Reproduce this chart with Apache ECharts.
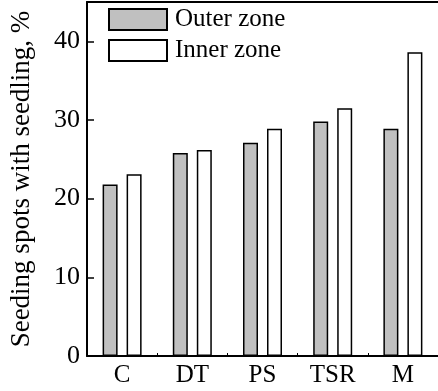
<!DOCTYPE html>
<html><head><meta charset="utf-8">
<script src="https://cdn.jsdelivr.net/npm/echarts@6/dist/echarts.min.js"></script>
<style>html,body{margin:0;padding:0;background:#fff}#c{width:438px;height:391px}</style>
</head><body><div id="c"></div>
<script>
const categories = ['C', 'DT', 'PS', 'TSR', 'M'];
const outerZone = [21.8, 25.8, 27.1, 29.8, 28.9];
const innerZone = [23.1, 26.2, 28.9, 31.5, 38.6];
const yTicks = [0, 10, 20, 30, 40];

const font = 'Liberation Serif, Times New Roman, serif';
const chart = echarts.init(document.getElementById('c'), null, {renderer: 'canvas'});
chart.setOption({
  animation: false,
  backgroundColor: '#fff',
  grid: {left: 86, top: 2, right: -2, bottom: 35, containLabel: false},
  legend: {
    left: 108, top: 7, padding: 0, orient: 'vertical', itemWidth: 58, itemHeight: 21, itemGap: 6,
    icon: 'rect',
    textStyle: {fontFamily: font, fontSize: 25, lineHeight: 21, color: '#000', padding: [0, 0, 0, 3]},
    data: ['Outer zone', 'Inner zone']
  },
  xAxis: [{
    type: 'category', data: categories,
    axisLine: {lineStyle: {color: '#000', width: 2}},
    axisTick: {show: true, inside: true, length: 3, lineStyle: {color: '#000', width: 1}},
    axisLabel: {fontFamily: font, fontSize: 25, color: '#000', margin: 7}
  }, {
    type: 'category', data: categories, position: 'top',
    axisLine: {show: true, lineStyle: {color: '#000', width: 2}},
    axisTick: {show: false}, axisLabel: {show: false}
  }],
  yAxis: {
    type: 'value', min: 0, max: 45, interval: 10,
    name: 'Seeding spots with seedling, %', nameLocation: 'middle', nameGap: 52,
    nameTextStyle: {fontFamily: font, fontSize: 27, color: '#000'},
    axisLine: {show: true, lineStyle: {color: '#000', width: 2}},
    axisTick: {show: true, inside: true, length: 7, lineStyle: {color: '#000', width: 1.5}},
    axisLabel: {fontFamily: font, fontSize: 26, color: '#000', margin: 7,
      formatter: v => yTicks.includes(v) ? String(v) : ''},
    splitLine: {show: false}
  },
  series: [{
    name: 'Outer zone', type: 'bar', data: outerZone, barWidth: 15, barGap: '60%',
    itemStyle: {color: '#c0c0c0', borderColor: '#000', borderWidth: 1.5}
  }, {
    name: 'Inner zone', type: 'bar', data: innerZone, barWidth: 15,
    itemStyle: {color: '#fff', borderColor: '#000', borderWidth: 1.5}
  }]
});
</script></body></html>
